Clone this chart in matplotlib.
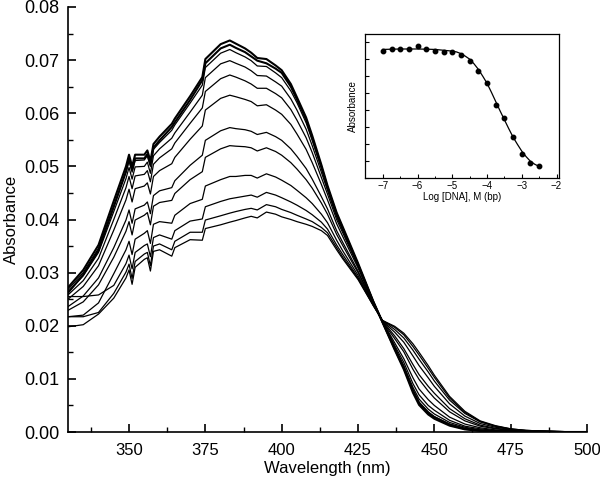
import matplotlib
matplotlib.use("Agg")
import matplotlib.pyplot as plt
from matplotlib.ticker import MultipleLocator, FormatStrFormatter, NullFormatter

plt.rcParams["font.family"] = ["Liberation Sans", "DejaVu Sans"]

# wavelength grid (nm)
wavelength = [330, 335, 340, 345, 349, 350, 351, 352, 355, 356, 357, 358, 360, 364, 365,
              370, 374, 375, 380, 383, 385, 388, 390, 392, 395, 398, 400, 403, 405, 408,
              410, 413, 415, 418, 420, 425, 430, 433, 437, 440, 443, 445, 448, 450, 455,
              460, 465, 470, 475, 480, 490, 500]

# free compound (thick bundle of nearly identical spectra)
bundle_a = [0.0272, 0.0305, 0.0352, 0.0435, 0.0500, 0.0522, 0.0500, 0.0522, 0.0522, 0.0530, 0.0510,
            0.0542, 0.0556, 0.0580, 0.0590, 0.0632, 0.0668, 0.0702, 0.0730,
            0.0737, 0.0731, 0.0722, 0.0714, 0.0704, 0.0702, 0.0690, 0.0681, 0.0655, 0.0630, 0.0592,
            0.0558, 0.0503, 0.0464, 0.0413, 0.0386, 0.0318, 0.0246, 0.0207, 0.0155, 0.0118, 0.0074,
            0.0051, 0.0033, 0.0025, 0.0012, 0.0005, 0.0002, 0.0001, 0.0001, 0.0, 0.0, 0.0]
bundle_b = [0.0262, 0.0296, 0.0342, 0.0424, 0.0490, 0.0514, 0.0493, 0.0515, 0.0515, 0.0523, 0.0503,
            0.0535, 0.0549, 0.0574, 0.0583, 0.0625, 0.0662, 0.0694, 0.0722,
            0.0729, 0.0723, 0.0715, 0.0707, 0.0699, 0.0694, 0.0684, 0.0676, 0.0650, 0.0626, 0.0588,
            0.0553, 0.0499, 0.0460, 0.0410, 0.0383, 0.0315, 0.0245, 0.0207, 0.0157, 0.0121, 0.0078,
            0.0055, 0.0036, 0.0028, 0.0014, 0.0006, 0.0003, 0.0001, 0.0001, 0.0, 0.0, 0.0]

# spectra with increasing DNA
spec_1 = [0.0268, 0.0300, 0.0346, 0.0426, 0.0490, 0.0511, 0.0489, 0.0511, 0.0512, 0.0520, 0.0500,
          0.0532, 0.0545, 0.0568, 0.0578, 0.0619, 0.0653, 0.0686, 0.0713,
          0.0720, 0.0714, 0.0706, 0.0699, 0.0689, 0.0688, 0.0676, 0.0667, 0.0642, 0.0620, 0.0582,
          0.0549, 0.0497, 0.0461, 0.0410, 0.0383, 0.0316, 0.0246, 0.0207, 0.0157, 0.0121, 0.0079,
          0.0056, 0.0038, 0.0029, 0.0015, 0.0007, 0.0003, 0.0002, 0.0001, 0.0, 0.0, 0.0]
spec_2 = [0.0264, 0.0294, 0.0338, 0.0415, 0.0477, 0.0498, 0.0476, 0.0499, 0.0500, 0.0508, 0.0487,
          0.0520, 0.0533, 0.0553, 0.0563, 0.0602, 0.0634, 0.0667, 0.0693,
          0.0699, 0.0694, 0.0687, 0.0680, 0.0671, 0.0670, 0.0659, 0.0651, 0.0627, 0.0606, 0.0570,
          0.0539, 0.0489, 0.0455, 0.0405, 0.0379, 0.0315, 0.0245, 0.0207, 0.0160, 0.0125, 0.0084,
          0.0062, 0.0043, 0.0034, 0.0018, 0.0009, 0.0004, 0.0002, 0.0001, 0.0, 0.0, 0.0]
spec_3 = [0.0258, 0.0285, 0.0327, 0.0400, 0.0460, 0.0481, 0.0458, 0.0482, 0.0485, 0.0492, 0.0471,
          0.0504, 0.0516, 0.0533, 0.0544, 0.0581, 0.0610, 0.0641, 0.0665,
          0.0672, 0.0668, 0.0661, 0.0655, 0.0647, 0.0647, 0.0637, 0.0629, 0.0607, 0.0587, 0.0554,
          0.0526, 0.0479, 0.0448, 0.0400, 0.0375, 0.0312, 0.0244, 0.0208, 0.0163, 0.0131, 0.0091,
          0.0070, 0.0050, 0.0041, 0.0022, 0.0011, 0.0006, 0.0003, 0.0002, 0.0001, 0.0, 0.0]
spec_4 = [0.0250, 0.0274, 0.0313, 0.0380, 0.0437, 0.0457, 0.0433, 0.0458, 0.0463, 0.0469, 0.0448,
          0.0481, 0.0492, 0.0505, 0.0517, 0.0551, 0.0576, 0.0606, 0.0628,
          0.0634, 0.0631, 0.0626, 0.0622, 0.0614, 0.0616, 0.0606, 0.0598, 0.0579, 0.0561, 0.0532,
          0.0507, 0.0466, 0.0437, 0.0392, 0.0368, 0.0309, 0.0244, 0.0208, 0.0168, 0.0138, 0.0102,
          0.0081, 0.0061, 0.0050, 0.0028, 0.0015, 0.0008, 0.0004, 0.0002, 0.0001, 0.0, 0.0]
spec_5 = [0.0236, 0.0256, 0.0290, 0.0347, 0.0399, 0.0418, 0.0393, 0.0420, 0.0427, 0.0433, 0.0411,
          0.0445, 0.0454, 0.0460, 0.0473, 0.0502, 0.0521, 0.0549, 0.0567,
          0.0573, 0.0571, 0.0569, 0.0566, 0.0560, 0.0564, 0.0556, 0.0549, 0.0533, 0.0519, 0.0496,
          0.0476, 0.0443, 0.0420, 0.0379, 0.0357, 0.0303, 0.0242, 0.0208, 0.0176, 0.0151, 0.0118,
          0.0099, 0.0077, 0.0064, 0.0038, 0.0021, 0.0011, 0.0006, 0.0003, 0.0001, 0.0, 0.0]
spec_6 = [0.0229, 0.0245, 0.0277, 0.0329, 0.0378, 0.0396, 0.0371, 0.0399, 0.0408, 0.0413, 0.0390,
          0.0425, 0.0432, 0.0436, 0.0449, 0.0475, 0.0490, 0.0517, 0.0533,
          0.0539, 0.0538, 0.0537, 0.0535, 0.0529, 0.0535, 0.0528, 0.0521, 0.0507, 0.0495, 0.0475,
          0.0459, 0.0431, 0.0410, 0.0372, 0.0351, 0.0300, 0.0241, 0.0209, 0.0181, 0.0157, 0.0127,
          0.0108, 0.0086, 0.0073, 0.0044, 0.0025, 0.0013, 0.0007, 0.0004, 0.0002, 0.0001, 0.0]
spec_7 = [0.0217, 0.0220, 0.0243, 0.0298, 0.0343, 0.0359, 0.0334, 0.0363, 0.0374, 0.0379, 0.0355,
          0.0391, 0.0396, 0.0393, 0.0408, 0.0430, 0.0438, 0.0463, 0.0475,
          0.0481, 0.0481, 0.0483, 0.0483, 0.0478, 0.0486, 0.0480, 0.0474, 0.0464, 0.0455, 0.0441,
          0.0430, 0.0410, 0.0394, 0.0361, 0.0341, 0.0295, 0.0240, 0.0209, 0.0188, 0.0169, 0.0143,
          0.0125, 0.0102, 0.0086, 0.0053, 0.0030, 0.0016, 0.0009, 0.0005, 0.0002, 0.0001, 0.0]
spec_8 = [0.0255, 0.0255, 0.0258, 0.0276, 0.0317, 0.0333, 0.0307, 0.0338, 0.0351, 0.0354, 0.0330,
          0.0366, 0.0371, 0.0363, 0.0379, 0.0397, 0.0401, 0.0424, 0.0434,
          0.0439, 0.0441, 0.0444, 0.0446, 0.0442, 0.0451, 0.0446, 0.0441, 0.0433, 0.0427, 0.0417,
          0.0409, 0.0395, 0.0382, 0.0352, 0.0334, 0.0291, 0.0239, 0.0210, 0.0193, 0.0177, 0.0154,
          0.0137, 0.0113, 0.0096, 0.0060, 0.0035, 0.0019, 0.0011, 0.0005, 0.0003, 0.0001, 0.0]
spec_9 = [0.0217, 0.0217, 0.0225, 0.0261, 0.0301, 0.0316, 0.0289, 0.0321, 0.0335, 0.0338, 0.0313,
          0.0350, 0.0354, 0.0343, 0.0359, 0.0376, 0.0376, 0.0399, 0.0407,
          0.0412, 0.0415, 0.0419, 0.0421, 0.0418, 0.0428, 0.0424, 0.0419, 0.0413, 0.0408, 0.0401,
          0.0396, 0.0385, 0.0375, 0.0347, 0.0329, 0.0289, 0.0238, 0.0210, 0.0197, 0.0183, 0.0161,
          0.0145, 0.0120, 0.0103, 0.0064, 0.0037, 0.0020, 0.0011, 0.0006, 0.0003, 0.0001, 0.0]
spec_10 = [0.0198, 0.0202, 0.0222, 0.0252, 0.0290, 0.0305, 0.0278, 0.0310, 0.0325, 0.0328, 0.0303,
           0.0340, 0.0343, 0.0331, 0.0347, 0.0362, 0.0361, 0.0383, 0.0390,
           0.0395, 0.0398, 0.0403, 0.0406, 0.0403, 0.0414, 0.0410, 0.0405, 0.0400, 0.0396, 0.0391,
           0.0387, 0.0379, 0.0370, 0.0343, 0.0326, 0.0287, 0.0238, 0.0210, 0.0199, 0.0186, 0.0166,
           0.0150, 0.0125, 0.0107, 0.0067, 0.0039, 0.0021, 0.0012, 0.0006, 0.0003, 0.0001, 0.0]

# inset: titration points and fitted curve
log_dna = [-7.0, -6.75, -6.5, -6.25, -6.0, -5.75, -5.5, -5.25, -5.0, -4.75,
           -4.5, -4.25, -4.0, -3.75, -3.5, -3.25, -3.0, -2.75, -2.5]
abs_points = [0.0660, 0.0663, 0.0663, 0.0664, 0.0670, 0.0663, 0.0660, 0.0656, 0.0656, 0.0651,
              0.0635, 0.0612, 0.0584, 0.0532, 0.0501, 0.0456, 0.0416, 0.0394, 0.0387]
fit_x = [-7.0, -6.5, -6.0, -5.5, -5.0, -4.875, -4.75, -4.625, -4.5, -4.375, -4.25, -4.125,
         -4.0, -3.875, -3.75, -3.625, -3.5, -3.375, -3.25, -3.125, -3.0, -2.875, -2.75,
         -2.625, -2.5]
fit_y = [0.0663, 0.0664, 0.0664, 0.0663, 0.0659, 0.0657, 0.0653, 0.0647, 0.0640, 0.0629,
         0.0616, 0.0600, 0.0583, 0.0562, 0.0540, 0.0518, 0.0497, 0.0476, 0.0456, 0.0439,
         0.0423, 0.0410, 0.0399, 0.0392, 0.0387]

spectra = [spec_1, spec_2, spec_3, spec_4, spec_5, spec_6, spec_7, spec_8, spec_9, spec_10]

fig = plt.figure(figsize=(6, 4.82), dpi=100)
ax = fig.add_axes([0.1133, 0.1037, 0.865, 0.8818])

for s in [bundle_a, bundle_b]:
    ax.plot(wavelength, s, color="black", linewidth=1.5)
for s in spectra:
    ax.plot(wavelength, s, color="black", linewidth=0.9)

ax.set_xlim(330, 500)
ax.set_ylim(0, 0.08)
ax.xaxis.set_major_locator(MultipleLocator(25))
ax.xaxis.set_minor_locator(MultipleLocator(12.5))
ax.yaxis.set_major_locator(MultipleLocator(0.01))
ax.yaxis.set_minor_locator(MultipleLocator(0.005))
ax.yaxis.set_major_formatter(FormatStrFormatter("%.2f"))
ax.spines["top"].set_visible(False)
ax.spines["right"].set_visible(False)
ax.spines["left"].set_linewidth(1.2)
ax.spines["bottom"].set_linewidth(1.2)
ax.tick_params(which="major", direction="in", length=6, width=1.2)
ax.tick_params(which="minor", direction="in", length=3.5, width=1.0)
ax.tick_params(axis="x", labelsize=12, pad=8)
ax.tick_params(axis="y", labelsize=13, pad=6)
ax.set_xlabel("Wavelength (nm)", fontsize=12, labelpad=2)
ax.set_ylabel("Absorbance", fontsize=12, labelpad=4)

# inset
ins = fig.add_axes([0.608, 0.631, 0.323, 0.299])
ins.plot(fit_x, fit_y, color="black", linewidth=0.9)
ins.plot(log_dna, abs_points, "o", color="black", markersize=3.2)
ins.set_xlim(-7.52, -1.94)
ins.set_ylim(0.036, 0.070)
ins.xaxis.set_major_locator(MultipleLocator(1))
ins.xaxis.set_minor_locator(MultipleLocator(0.5))
ins.yaxis.set_major_locator(MultipleLocator(0.004))
ins.yaxis.set_major_formatter(NullFormatter())
ins.tick_params(which="major", direction="in", length=3, width=0.8, labelsize=7, pad=2)
ins.tick_params(which="minor", direction="in", length=1.8, width=0.7)
for sp in ins.spines.values():
    sp.set_linewidth(0.9)
ins.set_xlabel("Log [DNA], M (bp)", fontsize=7, labelpad=1)
ins.set_ylabel("Absorbance", fontsize=7, labelpad=3)

fig.savefig("out.png", dpi=100)
